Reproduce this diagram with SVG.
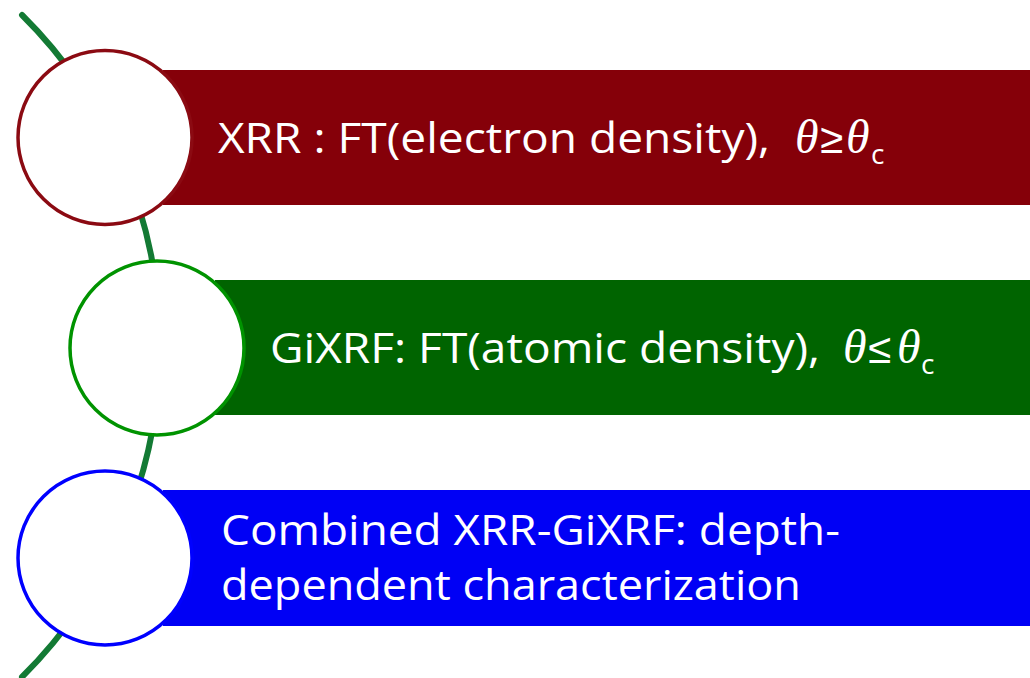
<svg xmlns="http://www.w3.org/2000/svg" width="1030" height="678" viewBox="0 0 1030 678">
<style>
.bar-t{font-family:"Open Sans","Liberation Sans",sans-serif;font-size:42px;fill:#ffffff}
.th{font-family:"Liberation Serif",serif;font-style:italic;font-size:48px;fill:#ffffff}
.op{font-family:"Liberation Sans",sans-serif;font-size:42px;fill:#ffffff}
.sub{font-family:"Open Sans","Liberation Sans",sans-serif;font-size:28px;fill:#ffffff}
.node-c{fill:#ffffff;stroke-width:3.5}
</style>
<rect width="1030" height="678" fill="#ffffff"/>
<g id="connectors">
<path d="M22,15 A466,466 0 0 1 22,677" fill="none" stroke="#137a34" stroke-width="6" stroke-linecap="round"/>
</g>
<g id="node-xrr">
<rect x="163" y="70" width="867" height="135" fill="#850009"/>
<circle cx="105" cy="137.5" r="87" class="node-c" stroke="#8b0a12"/>
<text x="218" y="153" class="bar-t" textLength="552" lengthAdjust="spacingAndGlyphs">XRR : FT(electron density),</text>
<text x="795" y="153" class="th">θ</text>
<text x="820" y="153" class="op">≥</text>
<text x="846" y="153" class="th">θ</text>
<text x="871" y="164" class="sub">c</text>
</g>
<g id="node-gixrf">
<rect x="215" y="280" width="815" height="135" fill="#006400"/>
<circle cx="157" cy="348" r="87" class="node-c" stroke="#009300"/>
<text x="270" y="363" class="bar-t" textLength="550" lengthAdjust="spacingAndGlyphs">GiXRF: FT(atomic density),</text>
<text x="843" y="363" class="th">θ</text>
<text x="868" y="363" class="op">≤</text>
<text x="897" y="363" class="th">θ</text>
<text x="921" y="374" class="sub">c</text>
</g>
<g id="node-combined">
<rect x="163" y="490" width="867" height="136" fill="#0000f5"/>
<circle cx="105" cy="558" r="87" class="node-c" stroke="#0000ff"/>
<text x="221" y="545" class="bar-t" textLength="619" lengthAdjust="spacingAndGlyphs">Combined XRR-GiXRF: depth-</text>
<text x="221" y="600" class="bar-t" textLength="580" lengthAdjust="spacingAndGlyphs">dependent characterization</text>
</g>
</svg>
